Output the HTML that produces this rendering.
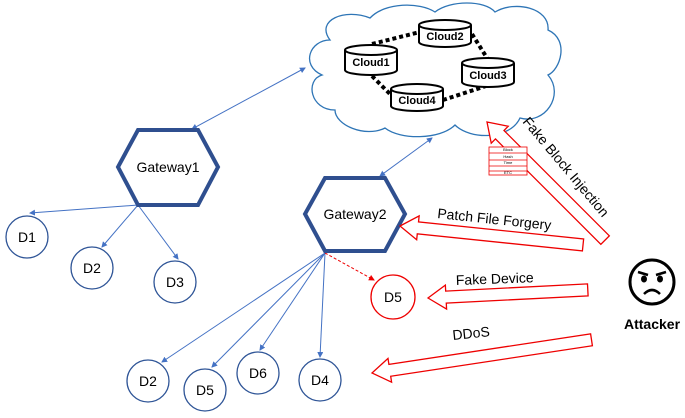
<!DOCTYPE html><html><head><style>body{margin:0;background:#fff}svg{display:block;font-family:"Liberation Sans",sans-serif}</style></head><body>
<svg width="685" height="418" viewBox="0 0 685 418">
<defs><marker id="bl" markerWidth="6" markerHeight="6" refX="5" refY="3" orient="auto-start-reverse"><path d="M0,0L6,3L0,6z" fill="#4472c4"/></marker>
<marker id="rd" markerWidth="6" markerHeight="6" refX="5" refY="3" orient="auto-start-reverse"><path d="M0,0L6,3L0,6z" fill="#e00"/></marker></defs>
<!-- cloud -->
<path d="M330,40 C315,20 345,8 370,18 C385,2 420,2 435,12 C450,0 485,0 495,12 C515,0 550,8 548,30 C570,40 560,70 548,75 C565,95 545,125 520,118 C510,140 470,140 455,125 C440,140 400,140 385,128 C365,138 335,125 335,110 C310,110 305,80 322,75 C300,65 310,40 330,40 Z" fill="#fff" stroke="#2e75b6" stroke-width="1.3"/>
<g stroke="#000" stroke-width="4" stroke-dasharray="4,3" fill="none">
<path d="M372,44 L420,32"/><path d="M472,34 L487,58"/><path d="M372,76 L392,96"/><path d="M443,100 L486,86"/></g>
<g stroke="#000" stroke-width="2" fill="#fff" font-size="11" font-weight="bold">
<g transform="translate(345,45)"><path d="M0,5 V25 A26,5 0 0 0 52,25 V5"/><ellipse cx="26" cy="5" rx="26" ry="5"/><text x="26" y="21" text-anchor="middle" stroke="none" fill="#000">Cloud1</text></g>
<g transform="translate(419,20)"><path d="M0,5 V22 A26,5 0 0 0 52,22 V5"/><ellipse cx="26" cy="5" rx="26" ry="5"/><text x="26" y="20" text-anchor="middle" stroke="none" fill="#000">Cloud2</text></g>
<g transform="translate(462,58)"><path d="M0,5 V24 A26,5 0 0 0 52,24 V5"/><ellipse cx="26" cy="5" rx="26" ry="5"/><text x="26" y="21" text-anchor="middle" stroke="none" fill="#000">Cloud3</text></g>
<g transform="translate(391,84)"><path d="M0,5 V22 A26,5 0 0 0 52,22 V5"/><ellipse cx="26" cy="5" rx="26" ry="5"/><text x="26" y="20" text-anchor="middle" stroke="none" fill="#000">Cloud4</text></g>
</g>
<!-- blue links -->
<g stroke="#4472c4" stroke-width="1" fill="none">
<path d="M192,129 L305,68" marker-start="url(#bl)" marker-end="url(#bl)"/>
<path d="M380,176 L432,138" marker-start="url(#bl)" marker-end="url(#bl)"/>
<path d="M138,205 L30,213" marker-end="url(#bl)"/>
<path d="M138,205 L102,247" marker-end="url(#bl)"/>
<path d="M138,205 L178,259" marker-end="url(#bl)"/>
<path d="M325,253 L162,362" marker-end="url(#bl)"/>
<path d="M325,253 L212,367" marker-end="url(#bl)"/>
<path d="M325,253 L260,350" marker-end="url(#bl)"/>
<path d="M325,253 L320,357" marker-end="url(#bl)"/>
<path d="M325,253 L374,280" stroke="#e00" stroke-dasharray="3,2" marker-end="url(#rd)"/>
</g>
<!-- gateways -->
<polygon points="138,130 198,130 218,167 198,205 138,205 118,167" fill="#fff" stroke="#2f4f8f" stroke-width="4"/>
<text x="168" y="172" text-anchor="middle" font-size="14">Gateway1</text>
<polygon points="325,178 385,178 405,214 385,251 325,251 305,214" fill="#fff" stroke="#2f4f8f" stroke-width="4"/>
<text x="355" y="219" text-anchor="middle" font-size="14">Gateway2</text>
<!-- nodes -->
<g fill="#fff" stroke="#2f5597" stroke-width="1.3" font-size="14">
<circle cx="27" cy="237" r="21"/><circle cx="92" cy="268" r="21"/><circle cx="175" cy="282" r="21"/>
<circle cx="148" cy="381" r="21"/><circle cx="205" cy="390" r="21"/><circle cx="258" cy="373" r="21"/><circle cx="320" cy="380" r="21"/>
<circle cx="393" cy="297" r="22" stroke="#e00"/>
</g>
<g font-size="14" text-anchor="middle">
<text x="27" y="242">D1</text><text x="92" y="273">D2</text><text x="175" y="287">D3</text>
<text x="148" y="386">D2</text><text x="205" y="395">D5</text><text x="258" y="378">D6</text><text x="320" y="385">D4</text><text x="393" y="302">D5</text></g>
<!-- red block arrows -->
<g fill="#fff" stroke="#e00" stroke-width="1.3">
<polygon transform="translate(487,122) rotate(45)" points="0,0 18,-12 18,-6 167,-6 167,6 18,6 18,12"/>
<polygon transform="translate(400,226) rotate(5.9)" points="0,0 18,-12 18,-6 184,-6 184,6 18,6 18,12"/>
<polygon transform="translate(428,298) rotate(-2.9)" points="0,0 18,-12 18,-6 160,-6 160,6 18,6 18,12"/>
<polygon transform="translate(372,373) rotate(-8.6)" points="0,0 18,-12 18,-6 222,-6 222,6 18,6 18,12"/>
</g>
<!-- block icon -->
<g fill="#fff" stroke="#e00" stroke-width="0.8"><rect x="489" y="147" width="38" height="28"/>
<line x1="489" y1="153" x2="527" y2="153"/><line x1="489" y1="160" x2="527" y2="160"/><line x1="489" y1="166" x2="527" y2="166"/><line x1="489" y1="171" x2="527" y2="171"/></g>
<g font-size="4" text-anchor="middle"><text x="508" y="151">Block</text><text x="508" y="158">Hash</text><text x="508" y="164">Time</text><text x="508" y="174">ETC</text></g>
<!-- labels -->
<g font-size="14">
<text transform="translate(522,122) rotate(50)">Fake Block Injection</text>
<text transform="translate(437,218) rotate(6)">Patch File Forgery</text>
<text transform="translate(456,285) rotate(-2)">Fake Device</text>
<text transform="translate(453,340) rotate(-6)">DDoS</text>
</g>
<!-- attacker -->
<circle cx="652" cy="282" r="22" fill="#fff" stroke="#000" stroke-width="3"/>
<ellipse cx="644" cy="279" rx="3" ry="3.5"/><ellipse cx="660" cy="279" rx="3" ry="3.5"/>
<path d="M638,272 L648,275 M666,272 L656,275 M644,294 Q652,286 660,294" stroke="#000" stroke-width="2.5" fill="none"/>
<text x="652" y="329" text-anchor="middle" font-size="14" font-weight="bold">Attacker</text>
</svg></body></html>
